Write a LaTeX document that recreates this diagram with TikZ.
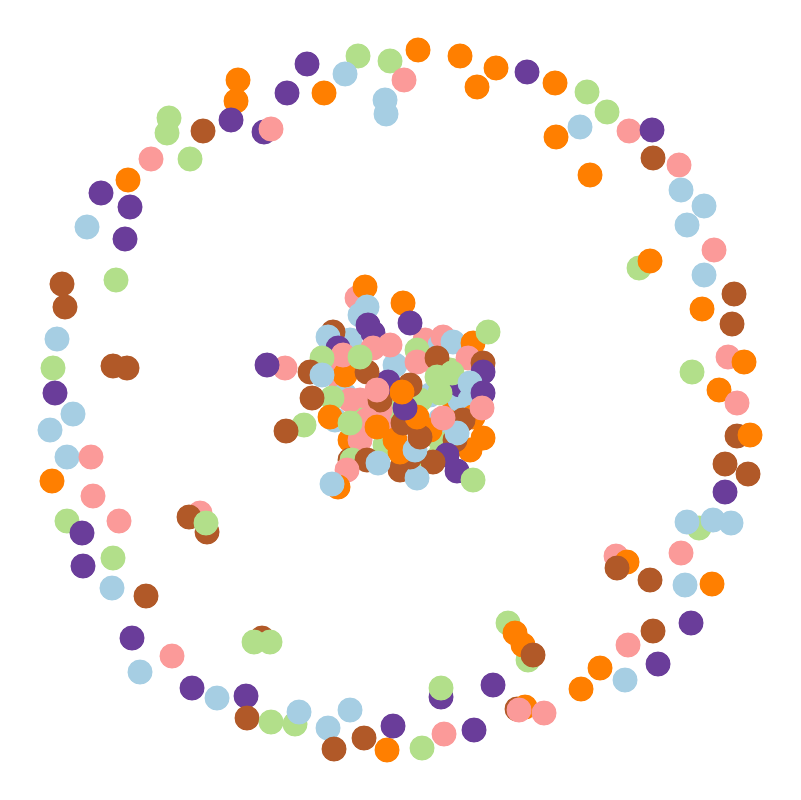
\documentclass[tikz,border=0pt]{standalone}
\definecolor{lb}{HTML}{A6CEE3}
\definecolor{og}{HTML}{FF7F00}
\definecolor{pu}{HTML}{6A3D9A}
\definecolor{br}{HTML}{B15928}
\definecolor{pk}{HTML}{FB9A99}
\definecolor{gn}{HTML}{B2DF8A}
\begin{document}
\begin{tikzpicture}[x=0.025cm,y=-0.025cm,dot/.style={circle,inner sep=0pt,minimum size=0.625cm}]
  \useasboundingbox (0,0) rectangle (800,800);
  % outer ring
  \foreach \c/\x/\y [count=\i] in {gn/358/56, gn/390/61, pu/307/64, lb/345/74, pk/404/80, og/238/80, og/236/101, pu/287/93, og/324/93, lb/385/100, lb/386/114, gn/169/118, gn/167/133, br/203/131, pu/231/120, pu/264/132, pk/271/129, pk/151/159, gn/190/159, og/128/180, pu/101/193, pu/130/207, lb/87/227, pu/125/239, gn/116/280, br/62/284, br/65/307, lb/57/339, gn/53/368, pu/55/393, br/113/366, br/127/368,
    og/418/50, og/460/56, og/496/68, og/477/87, pu/527/72, og/555/83, gn/587/92, gn/607/112, lb/580/127, og/556/137, pk/629/131, pu/652/130, br/653/158, pk/679/165, og/590/175, lb/681/190, lb/704/206, lb/687/225, pk/714/250, gn/639/268, og/650/261, lb/704/275, br/734/294, og/702/309, br/732/324, pk/728/357, og/744/362, gn/692/372, og/719/390, pk/737/403,
    lb/73/414, lb/50/430, lb/67/457, pk/91/457, og/52/481, pk/93/496, gn/67/521, pu/82/533, pk/119/521, gn/113/558, pu/83/566, lb/112/588, br/146/596, pk/200/513, br/189/517, br/207/532, gn/206/523, pu/132/638, pk/172/656, lb/140/672, pu/192/688, lb/217/698, pu/246/696, br/247/718, gn/271/722, gn/295/724, lb/299/712, br/262/638, gn/254/642, gn/270/642, lb/328/728, lb/350/710, br/334/749, br/364/738, og/387/750, pu/393/726,
    br/737/436, og/750/435, br/725/464, br/748/474, pu/725/492, gn/699/528, lb/687/522, lb/713/520, lb/731/523, pk/681/553, pk/616/556, og/627/562, br/617/568, br/650/580, lb/685/585, og/712/584, pu/691/623, br/653/631, pk/628/645, pu/658/664, og/600/668, lb/625/680, og/581/689, gn/508/623, og/515/633, gn/528/660, og/523/645, br/533/655, pu/493/685, pu/441/697, gn/441/688, br/517/709, og/525/707, pk/519/710, pk/544/713, pk/444/734, pu/474/730, gn/422/748}
    \node[dot,fill=\c] (r\i) at (\x,\y) {};
  % central cluster
  \foreach \c/\x/\y [count=\i] in {gn/440/440, lb/395/365, pk/330/360, og/455/405, gn/385/445, br/400/470, pk/360/400, lb/430/395, gn/465/395, og/350/440, pk/395/420, lb/335/420, gn/440/455, pk/425/340, lb/350/340, og/470/450,
    lb/440/345, pk/430/360, gn/450/370, lb/460/400, br/455/440, lb/440/420, gn/400/410, pk/340/380, pk/355/360, lb/345/395, gn/360/420, og/395/440, pk/380/410, og/345/375, br/380/400, gn/420/400, pu/460/385, lb/470/400, og/430/430, br/350/460, gn/415/455, pk/360/440,
    pk/357/298, og/365/287, lb/367/307, lb/360/315, og/403/303, pu/410/323, pu/368/325, pu/373/333, br/333/332, lb/328/337, pu/338/348, pk/343/355, pk/373/348, pk/390/345, pk/443/337, lb/453/342, og/473/343, gn/488/332, gn/417/350, pk/417/362, br/437/358, pk/468/358, br/483/363, pu/483/372, gn/437/377, gn/452/373, gn/440/393, lb/470/383, pu/483/393, og/473/417, br/463/420, pk/482/408, og/483/438, lb/457/433, pk/443/418, pu/447/455, pu/457/471, gn/473/480, br/433/462, lb/417/478, br/410/457, og/400/452, lb/415/450, br/420/437, br/403/423, og/417/417, pu/405/408, br/410/385, pu/388/382, br/367/372, pk/377/390, og/402/392, gn/360/357, pk/350/400, gn/332/398, br/312/398, og/330/417, gn/322/358, br/310/372, lb/322/375, pk/367/420, gn/350/423, og/377/427, gn/352/460, br/367/460, lb/378/463, pk/347/470, og/338/487, lb/332/484, gn/304/425, br/286/431, pk/285/368, pu/267/365}
    \node[dot,fill=\c] (c\i) at (\x,\y) {};
\end{tikzpicture}
\end{document}
